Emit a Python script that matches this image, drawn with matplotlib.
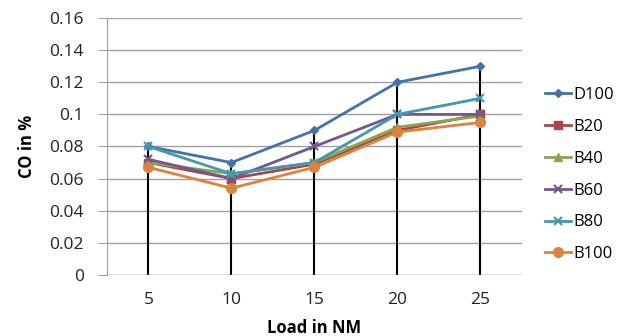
import matplotlib
matplotlib.use("Agg")
import matplotlib.pyplot as plt
import numpy as np

# data
loads = ["5", "10", "15", "20", "25"]
d100 = [0.080, 0.070, 0.090, 0.120, 0.130]
b20 = [0.070, 0.060, 0.069, 0.090, 0.100]
b40 = [0.070, 0.063, 0.070, 0.092, 0.099]
b60 = [0.072, 0.060, 0.080, 0.100, 0.100]
b80 = [0.080, 0.063, 0.070, 0.100, 0.110]
b100 = [0.067, 0.054, 0.067, 0.089, 0.095]

names = ["D100", "B20", "B40", "B60", "B80", "B100"]
series = [d100, b20, b40, b60, b80, b100]
colors = ["#4572A7", "#AA4643", "#89A54E", "#71588F", "#4198AF", "#DB843D"]
markers = ["D", "s", "^", "x", "x", "o"]
msizes = [4, 6, 6, 6, 6, 7]

plt.rcParams['font.family'] = ['Open Sans', 'DejaVu Sans']

fig = plt.figure(figsize=(6.22, 3.36), dpi=100)
ax = fig.add_axes([0.172, 0.182, 0.667, 0.764])

x = np.arange(len(loads))
tops = np.max(np.array(series), axis=0)
ax.vlines(x, 0, tops, color="black", lw=1.5, zorder=2)

for name, vals, c, m, ms in zip(names, series, colors, markers, msizes):
    ax.plot(x, vals, color=c, marker=m, markersize=ms, lw=2, label=name,
            markeredgewidth=1.5 if m == "x" else 1, zorder=3)

ax.set_xlim(-0.5, 4.5)
ax.set_ylim(0, 0.16)
ax.set_yticks(np.arange(0, 0.161, 0.02))
ax.set_yticklabels(["0", "0.02", "0.04", "0.06", "0.08", "0.1", "0.12", "0.14", "0.16"])
ax.set_xticks(x)
ax.set_xticklabels(loads)
ax.yaxis.grid(True, color="#a0a0a0", lw=1)
ax.set_axisbelow(True)
for s in ["top", "right", "bottom"]:
    ax.spines[s].set_visible(False)
ax.spines["left"].set_color("#a0a0a0")
ax.tick_params(axis="y", length=6.5, color="#a0a0a0", labelsize=12.5, pad=10,
               labelcolor="#222222")
ax.tick_params(axis="x", length=0, labelsize=12.5, pad=12, labelcolor="#222222")
ax.axhline(0, color="#a0a0a0", lw=1)

ax.set_ylabel("CO in %", fontsize=12, fontweight="bold", labelpad=10)
ax.set_xlabel("Load in NM", fontsize=12, fontweight="bold", labelpad=8)

ax.legend(loc="center left", bbox_to_anchor=(1.035, 0.39), frameon=False,
          fontsize=12, handlelength=1.6, labelspacing=0.95, handletextpad=0.1,
          borderaxespad=0.3, borderpad=0.2)

fig.savefig("out.png", dpi=100)
